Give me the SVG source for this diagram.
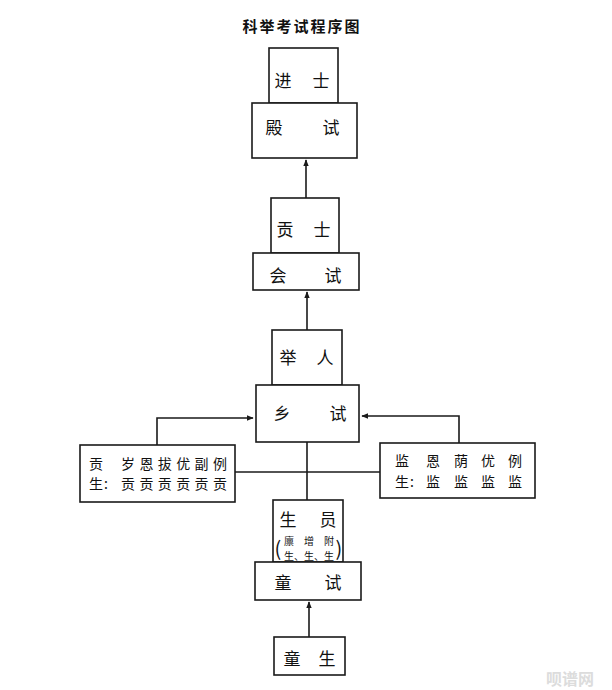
<svg xmlns="http://www.w3.org/2000/svg" width="612" height="690" viewBox="0 0 612 690">
<style>
.box{fill:#fff;stroke:#1a1a1a;stroke-width:1.6}
.ln{fill:none;stroke:#1a1a1a;stroke-width:1.6}
text{font-family:"Noto Sans CJK SC","Noto Sans CJK TC",sans-serif;fill:#111;text-anchor:middle;dominant-baseline:central}
.t{font-size:17px}
.s{font-size:14px}
.xs{font-size:10px}
</style>
<defs>
<marker id="ah" viewBox="0 0 10 10" refX="9" refY="5" markerWidth="7" markerHeight="7" orient="auto" markerUnits="userSpaceOnUse">
<path d="M0,1 L10,5 L0,9 Z" fill="#1a1a1a"/>
</marker>
</defs>
<rect width="612" height="690" fill="#fff"/>
<text id="title" x="302" y="25" style="font-size:15px;font-weight:bold;letter-spacing:2px">科举考试程序图</text>

<g id="connectors">
<line class="ln" x1="306" y1="198" x2="306" y2="160" marker-end="url(#ah)"/>
<line class="ln" x1="307" y1="330" x2="307" y2="292" marker-end="url(#ah)"/>
<polyline class="ln" points="157,445 157,418 253,418" marker-end="url(#ah)"/>
<polyline class="ln" points="459,443 459,416 362,416" marker-end="url(#ah)"/>
<line class="ln" x1="307" y1="442" x2="307" y2="500"/>
<line class="ln" x1="235" y1="472" x2="380" y2="472"/>
<line class="ln" x1="309" y1="637" x2="309" y2="602" marker-end="url(#ah)"/>
</g>

<g id="jinshi">
<rect class="box" x="269" y="48" width="69" height="55"/>
<text class="t" x="283 321" y="79">进士</text>
</g>
<g id="dianshi">
<rect class="box" x="252" y="103" width="105" height="55"/>
<text class="t" x="274 331" y="126">殿试</text>
</g>
<g id="gongshi">
<rect class="box" x="271" y="198" width="68" height="55"/>
<text class="t" x="285 322" y="228">贡士</text>
</g>
<g id="huishi">
<rect class="box" x="253" y="253" width="106" height="37"/>
<text class="t" x="278 333" y="274">会试</text>
</g>
<g id="juren">
<rect class="box" x="272" y="330" width="70" height="55"/>
<text class="t" x="288 325" y="356">举人</text>
</g>
<g id="xiangshi">
<rect class="box" x="256" y="385" width="103" height="57"/>
<text class="t" x="282 338" y="412">乡试</text>
</g>
<g id="gongsheng">
<rect class="box" x="80" y="445" width="155" height="57"/>
<text class="s" x="96" y="463">贡</text>
<text class="s" x="128 146.4 164.8 183.2 201.6 220" y="463">岁恩拔优副例</text>
<text class="s" x="96 106" y="483">生:</text>
<text class="s" x="128 146.4 164.8 183.2 201.6 220" y="483">贡贡贡贡贡贡</text>
</g>
<g id="jiansheng">
<rect class="box" x="380" y="443" width="155" height="55"/>
<text class="s" x="402 433 461 488 515" y="460">监恩荫优例</text>
<text class="s" x="402 412" y="481">生:</text>
<text class="s" x="433 461 488 515" y="481">监监监监</text>
</g>
<g id="shengyuan">
<rect class="box" x="273" y="500" width="70" height="62"/>
<text class="t" x="288 328" y="518">生员</text>
<text class="xs" x="289 309 329" y="540">廪增附</text>
<text class="xs" x="289 299 309 319 329" y="555">生、生、生</text>
<text style="font-size:20px" x="278" y="547">(</text>
<text style="font-size:20px" x="339" y="547">)</text>
</g>
<g id="tongshi">
<rect class="box" x="255" y="562" width="106" height="38"/>
<text class="t" x="283 333" y="581">童试</text>
</g>
<g id="tongsheng">
<rect class="box" x="274" y="637" width="71" height="38"/>
<text class="t" x="292 327" y="657">童生</text>
</g>
<text id="watermark" x="570" y="678" style="font-size:16px;fill:#dcdcdc;font-weight:bold">呗谱网</text>
</svg>
